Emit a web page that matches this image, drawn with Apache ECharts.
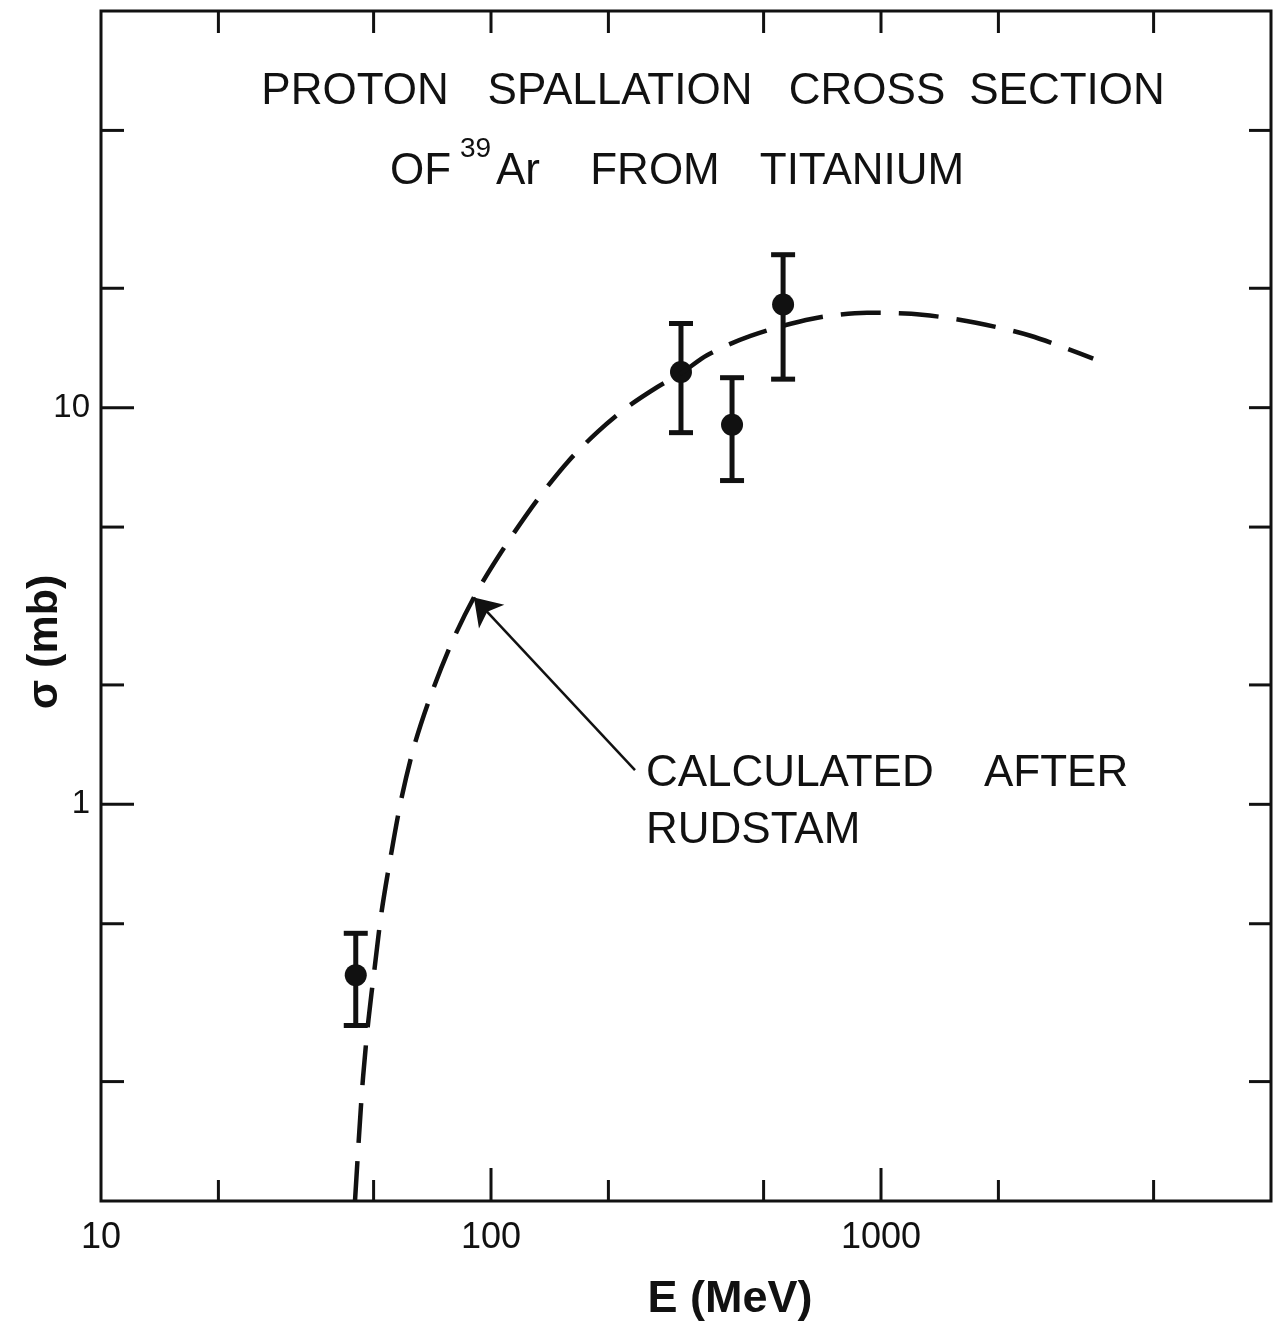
<!DOCTYPE html>
<html>
<head>
<meta charset="utf-8">
<script src="https://cdn.jsdelivr.net/npm/echarts@6/dist/echarts.min.js"></script>
<style>
  html, body { margin: 0; padding: 0; background: #fff; }
  #chart { width: 1278px; height: 1328px; }
</style>
</head>
<body>
<div id="chart"></div>
<script>
// axis ranges (log scales)
var xMin = 10, xMax = 10000;
var yMin = 0.1, yMax = 100;

// tick positions drawn inside the frame
var xTicks = [20, 50, 100, 200, 500, 1000, 2000, 5000];
var xMajor = [100, 1000];
var yTicks = [0.2, 0.5, 1, 2, 5, 10, 20, 50];
var yMajor = [1, 10];
var xLabels = [10, 100, 1000];
var yLabels = [1, 10];

// measured cross sections (MeV, mb)
var pointE = [45.0, 307, 415, 561];
var pointSigma = [0.371, 12.3, 9.06, 18.2];
var errLow = [0.277, 8.65, 6.55, 11.8];
var errHigh = [0.473, 16.3, 11.9, 24.3];

// calculated curve after Rudstam
var curveE = [44.8, 46.0, 47.0, 48.5, 50.4, 52.4, 55.5, 59.0, 63.7, 70.6, 80.2, 92.6, 109.4, 132.2, 157.5, 188, 224.5, 266.5, 307, 358, 463, 667, 921, 1274, 1752, 2417, 3500];
var curveSigma = [0.1, 0.152, 0.206, 0.286, 0.393, 0.535, 0.753, 1.04, 1.416, 1.92, 2.62, 3.47, 4.52, 5.90, 7.31, 8.70, 10.06, 11.26, 12.2, 13.56, 15.18, 16.76, 17.35, 17.15, 16.37, 15.18, 13.3];

// annotation arrow (data space)
var arrowFrom = [234, 1.22];
var arrowTo = [90.4, 3.32];

var ink = '#111';
var fontName = '"Liberation Sans", Arial, sans-serif';

var myChart = echarts.init(document.getElementById('chart'));

var curveData = [];
curveE.forEach(function (e, i) { curveData.push([e, curveSigma[i]]); });
var pointData = [];
pointE.forEach(function (e, i) { pointData.push([e, pointSigma[i]]); });
var errData = [];
pointE.forEach(function (e, i) { errData.push([e, errLow[i], errHigh[i]]); });

function tickLine(p1, p2) {
  return {
    type: 'line',
    shape: { x1: p1[0], y1: p1[1], x2: p2[0], y2: p2[1] },
    style: { stroke: ink, lineWidth: 3 }
  };
}

function label(text, x, y, size, align, extra) {
  var el = {
    type: 'text', x: x, y: y,
    style: { text: text, font: size + 'px ' + fontName, fill: ink, textAlign: align, textVerticalAlign: 'middle' }
  };
  if (extra) { for (var k in extra) { el[k] = extra[k]; } }
  return el;
}

var option = {
  animation: false,
  backgroundColor: '#fff',
  grid: {
    left: 101, right: 7, top: 11, bottom: 127,
    show: true, borderColor: ink, borderWidth: 3, backgroundColor: 'transparent'
  },
  xAxis: {
    type: 'log', logBase: 10, min: xMin, max: xMax,
    axisLine: { show: false },
    axisTick: { show: false },
    splitLine: { show: false },
    axisLabel: {
      margin: 19, color: ink, fontSize: 36, fontFamily: fontName,
      formatter: function (v) { return xLabels.indexOf(Math.round(v)) >= 0 ? String(Math.round(v)) : ''; }
    }
  },
  yAxis: {
    type: 'log', logBase: 10, min: yMin, max: yMax,
    axisLine: { show: false },
    axisTick: { show: false },
    splitLine: { show: false },
    axisLabel: {
      margin: 11, color: ink, fontSize: 33, fontFamily: fontName,
      formatter: function (v) { return yLabels.indexOf(Math.round(v * 1000) / 1000) >= 0 ? String(Math.round(v)) : ''; }
    }
  },
  graphic: [
    label('PROTON', 355, 92, 44, 'center'),
    label('SPALLATION', 620, 92, 44, 'center'),
    label('CROSS', 867, 92, 44, 'center'),
    label('SECTION', 1067, 92, 44, 'center'),
    label('OF', 390, 172, 44, 'left'),
    label('39', 460, 149, 28, 'left'),
    label('Ar', 496, 172, 44, 'left'),
    label('FROM', 655, 172, 44, 'center'),
    label('TITANIUM', 862, 172, 44, 'center'),
    label('CALCULATED', 646, 774, 44, 'left'),
    label('AFTER', 984, 774, 44, 'left'),
    label('RUDSTAM', 646, 831, 44, 'left'),
    { type: 'text', x: 730, y: 1300, style: { text: 'E (MeV)', font: 'bold 45px ' + fontName, fill: ink, textAlign: 'center', textVerticalAlign: 'middle' } },
    { type: 'text', x: 45, y: 642, rotation: Math.PI / 2, style: { text: 'σ (mb)', font: 'bold 43px ' + fontName, fill: ink, textAlign: 'center', textVerticalAlign: 'middle' } }
  ],
  series: [
    {
      // ticks on bottom and top edges
      type: 'custom',
      silent: true,
      data: xTicks.map(function (v) { return [v, 1]; }),
      renderItem: function (params, api) {
        var v = api.value(0);
        var len = xMajor.indexOf(v) >= 0 ? 33 : 21;
        var b = api.coord([v, yMin]);
        var t = api.coord([v, yMax]);
        return {
          type: 'group',
          children: [
            tickLine(b, [b[0], b[1] - len]),
            tickLine(t, [t[0], t[1] + 22])
          ]
        };
      }
    },
    {
      // ticks on left and right edges
      type: 'custom',
      silent: true,
      data: yTicks.map(function (v) { return [100, v]; }),
      renderItem: function (params, api) {
        var v = api.value(1);
        var len = yMajor.indexOf(v) >= 0 ? 33 : 23;
        var l = api.coord([xMin, v]);
        var r = api.coord([xMax, v]);
        return {
          type: 'group',
          children: [
            tickLine(l, [l[0] + len, l[1]]),
            tickLine(r, [r[0] - 22, r[1]])
          ]
        };
      }
    },
    {
      name: 'Calculated after Rudstam',
      type: 'line',
      data: curveData,
      smooth: 0.3,
      showSymbol: false,
      symbol: 'none',
      lineStyle: { color: ink, width: 4.5, type: [40, 18], cap: 'butt' },
      markLine: {
        silent: true,
        symbol: ['none', 'arrow'],
        symbolSize: 26,
        label: { show: false },
        lineStyle: { color: ink, width: 2.5, type: 'solid' },
        data: [[{ coord: arrowFrom }, { coord: arrowTo }]]
      }
    },
    {
      type: 'custom',
      silent: true,
      data: errData,
      encode: { x: 0, y: [1, 2] },
      renderItem: function (params, api) {
        var lo = api.coord([api.value(0), api.value(1)]);
        var hi = api.coord([api.value(0), api.value(2)]);
        var cap = 12;
        var st = { stroke: ink, lineWidth: 5 };
        return {
          type: 'group',
          children: [
            { type: 'line', shape: { x1: lo[0], y1: lo[1], x2: hi[0], y2: hi[1] }, style: st },
            { type: 'line', shape: { x1: lo[0] - cap, y1: lo[1], x2: lo[0] + cap, y2: lo[1] }, style: st },
            { type: 'line', shape: { x1: hi[0] - cap, y1: hi[1], x2: hi[0] + cap, y2: hi[1] }, style: st }
          ]
        };
      }
    },
    {
      name: 'Measured',
      type: 'scatter',
      data: pointData,
      symbol: 'circle',
      symbolSize: 22,
      itemStyle: { color: ink, opacity: 1 }
    }
  ]
};

myChart.setOption(option);
window.addEventListener('resize', function () { myChart.resize(); });
</script>
</body>
</html>
